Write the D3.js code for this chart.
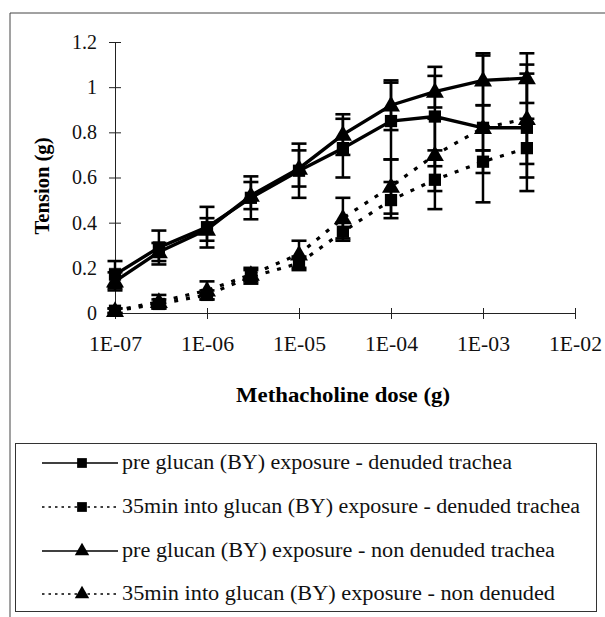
<!DOCTYPE html>
<html><head><meta charset="utf-8">
<script src="https://cdn.jsdelivr.net/npm/d3@7"></script>
<style>body{margin:0;background:#fff}svg{display:block}</style>
</head><body>
<svg id="c" width="605" height="617"></svg>
<script>
const doses = [1e-7, 3e-7, 1e-6, 3e-6, 1e-5, 3e-5, 1e-4, 3e-4, 1e-3, 3e-3];
const preDenuded      = [0.17, 0.29, 0.38, 0.51, 0.63, 0.73, 0.85, 0.87, 0.82, 0.82];
const preDenudedErr   = [0.06, 0.075, 0.09, 0.095, 0.12, 0.13, 0.17, 0.22, 0.33, 0.28];
const postDenuded     = [0.01, 0.04, 0.08, 0.16, 0.22, 0.36, 0.50, 0.59, 0.67, 0.73];
const postDenudedErr  = [0.01, 0.02, 0.02, 0.03, 0.03, 0.04, 0.08, 0.13, 0.05, 0.13];
const preNonDen       = [0.14, 0.27, 0.37, 0.52, 0.64, 0.79, 0.92, 0.98, 1.03, 1.04];
const preNonDenErr    = [0.04, 0.04, 0.05, 0.06, 0.08, 0.09, 0.11, 0.07, 0.11, 0.11];
const postNonDen      = [0.01, 0.05, 0.10, 0.17, 0.26, 0.42, 0.56, 0.70, 0.82, 0.86];
const postNonDenErr   = [0.01, 0.03, 0.04, 0.03, 0.06, 0.09, 0.12, 0.16, 0.10, 0.20];
const xTicks = [1e-7, 1e-6, 1e-5, 1e-4, 1e-3, 1e-2];
const xTickLabels = ["1E-07", "1E-06", "1E-05", "1E-04", "1E-03", "1E-02"];
const yTicks = [0, 0.2, 0.4, 0.6, 0.8, 1, 1.2];
const legendLabels = [
  "pre glucan (BY) exposure - denuded trachea",
  "35min into glucan (BY) exposure - denuded trachea",
  "pre glucan (BY) exposure - non denuded trachea",
  "35min into glucan (BY) exposure - non denuded"
];

const series = [
  {vals: preDenuded, err: preDenudedErr, marker: "square", dotted: false},
  {vals: postDenuded, err: postDenudedErr, marker: "square", dotted: true},
  {vals: preNonDen, err: preNonDenErr, marker: "triangle", dotted: false},
  {vals: postNonDen, err: postNonDenErr, marker: "triangle", dotted: true}
];

const svg = d3.select("#c");
const FONT = "'Liberation Serif', 'Times New Roman', serif";

// outer frame
svg.append("line").attr("x1",10).attr("y1",13).attr("x2",605).attr("y2",13).attr("stroke","#444").attr("stroke-width",1);
svg.append("line").attr("x1",10).attr("y1",13).attr("x2",10).attr("y2",617).attr("stroke","#444").attr("stroke-width",1);

const x = d3.scaleLog().domain([1e-7, 1e-2]).range([115, 575]);
const y = d3.scaleLinear().domain([0, 1.2]).range([313, 42]);

// axes
const xAxis = d3.axisBottom(x).tickValues(xTicks).tickFormat((d,i)=>xTickLabels[i]).tickSize(0).tickPadding(24);
const gx = svg.append("g").attr("transform",`translate(0,${y(0)})`).call(xAxis);
gx.select(".domain").attr("stroke","#222").attr("stroke-width",1);
gx.selectAll(".tick text").attr("font-family",FONT).attr("font-size",20).attr("fill","#111")
  .attr("textLength",53).attr("lengthAdjust","spacingAndGlyphs");
gx.selectAll(".tick").append("line").attr("y1",-5).attr("y2",6).attr("stroke","#222");

const yAxis = d3.axisLeft(y).tickValues(yTicks).tickFormat(d3.format("")).tickSize(0).tickPadding(18);
const gy = svg.append("g").attr("transform",`translate(${x(1e-7)},0)`).call(yAxis);
gy.select(".domain").attr("stroke","#222").attr("stroke-width",1);
gy.selectAll(".tick text").attr("font-family",FONT).attr("font-size",20).attr("fill","#111");
gy.selectAll(".tick").append("line").attr("x1",-6).attr("x2",6).attr("stroke","#222");

// axis titles
svg.append("text").attr("x",343).attr("y",402).attr("text-anchor","middle")
  .attr("font-family",FONT).attr("font-weight","bold").attr("font-size",20)
  .attr("textLength",214).attr("lengthAdjust","spacingAndGlyphs").text("Methacholine dose (g)");
svg.append("text").attr("transform","translate(49,186) rotate(-90)").attr("text-anchor","middle")
  .attr("font-family",FONT).attr("font-weight","bold").attr("font-size",20)
  .attr("textLength",97).attr("lengthAdjust","spacingAndGlyphs").text("Tension (g)");

const line = d3.line().x((d,i)=>x(doses[i])).y(d=>y(d));
const sqSym = d3.symbol().type(d3.symbolSquare).size(150);
const triSym = d3.symbol().type(d3.symbolTriangle).size(140);

series.forEach(s => {
  const g = svg.append("g");
  const eb = g.selectAll(".eb").data(s.vals).enter().append("g");
  eb.append("line").attr("x1",(d,i)=>x(doses[i])).attr("x2",(d,i)=>x(doses[i]))
    .attr("y1",(d,i)=>y(d + s.err[i])).attr("y2",(d,i)=>y(d - s.err[i]))
    .attr("stroke","#000").attr("stroke-width",2.5);
  [1,-1].forEach(sg => {
    eb.append("line").attr("x1",(d,i)=>x(doses[i])-7.5).attr("x2",(d,i)=>x(doses[i])+7.5)
      .attr("y1",(d,i)=>y(d + sg*s.err[i])).attr("y2",(d,i)=>y(d + sg*s.err[i]))
      .attr("stroke","#000").attr("stroke-width",2.6);
  });
  g.append("path").attr("d", line(s.vals)).attr("fill","none").attr("stroke","#000")
    .attr("stroke-width", s.dotted ? 3.2 : 3.4)
    .attr("stroke-dasharray", s.dotted ? "4,8" : null);
  g.selectAll(".m").data(s.vals).enter().append("path")
    .attr("transform",(d,i)=>`translate(${x(doses[i])},${y(d) + (s.marker==="triangle"?1:0)})`)
    .attr("d", s.marker==="square" ? sqSym() : triSym()).attr("fill","#000");
});

// legend
const lg = svg.append("g");
lg.append("rect").attr("x",15.5).attr("y",443.5).attr("width",581).attr("height",168)
  .attr("fill","none").attr("stroke","#333").attr("stroke-width",1);
const rowY = [463, 507, 551, 594];
const legendLen = [390, 458, 433, 433];
legendLabels.forEach((lab,i) => {
  const s = series[i];
  lg.append("line").attr("x1",42).attr("x2",118).attr("y1",rowY[i]).attr("y2",rowY[i])
    .attr("stroke","#000").attr("stroke-width",1.6).attr("stroke-dasharray", s.dotted ? "2.5,4" : null);
  lg.append("path").attr("transform",`translate(82,${rowY[i]})`)
    .attr("d", s.marker==="square" ? d3.symbol().type(d3.symbolSquare).size(95)() : d3.symbol().type(d3.symbolTriangle).size(90)())
    .attr("fill","#000");
  lg.append("text").attr("x",122).attr("y",rowY[i]+6).attr("font-family",FONT).attr("font-size",20)
    .attr("fill","#111").attr("textLength",legendLen[i]).attr("lengthAdjust","spacingAndGlyphs").text(lab);
});
</script>
</body></html>
